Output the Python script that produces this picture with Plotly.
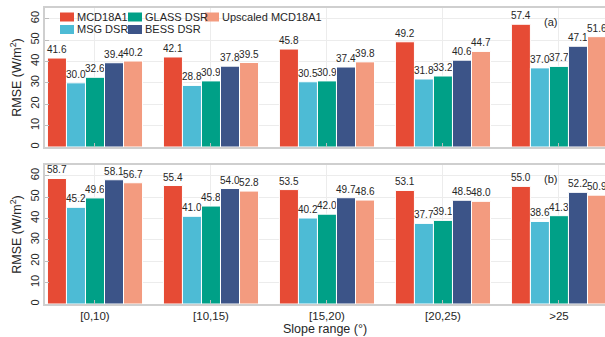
import plotly.graph_objects as go

categories = ["[0,10)", "[10,15)", "[15,20)", "[20,25)", ">25"]
series_names = ["MCD18A1", "MSG DSR", "GLASS DSR", "BESS DSR", "Upscaled MCD18A1"]
colors = ["#E64B35", "#4DBBD5", "#00A087", "#3C5488", "#F39B7F"]

# panel (a)
a_mcd18a1 = [41.6, 42.1, 45.8, 49.2, 57.4]
a_msg = [30.0, 28.8, 30.5, 31.8, 37.0]
a_glass = [32.6, 30.9, 30.9, 33.2, 37.7]
a_bess = [39.4, 37.8, 37.4, 40.6, 47.1]
a_upscaled = [40.2, 39.5, 39.8, 44.7, 51.6]

# panel (b)
b_mcd18a1 = [58.7, 55.4, 53.5, 53.1, 55.0]
b_msg = [45.2, 41.0, 40.2, 37.7, 38.6]
b_glass = [49.6, 45.8, 42.0, 39.1, 41.3]
b_bess = [58.1, 54.0, 49.7, 48.5, 52.2]
b_upscaled = [56.7, 52.8, 48.6, 48.0, 50.9]

panel_a = [a_mcd18a1, a_msg, a_glass, a_bess, a_upscaled]
panel_b = [b_mcd18a1, b_msg, b_glass, b_bess, b_upscaled]

FONT = "Liberation Sans, Arial, sans-serif"
TXT = "#262626"

fig = go.Figure()
for i, name in enumerate(series_names):
    fig.add_trace(go.Bar(
        x=categories, y=panel_a[i], name=name, marker_color=colors[i],
        marker_line=dict(color="white", width=1),
        text=[f"{v:.1f}" for v in panel_a[i]], textposition="outside",
        textfont=dict(size=10, color=TXT, family=FONT), cliponaxis=False,
        constraintext="none", xaxis="x", yaxis="y", showlegend=False,
    ))
for i, name in enumerate(series_names):
    fig.add_trace(go.Bar(
        x=categories, y=panel_b[i], name=name, marker_color=colors[i],
        marker_line=dict(color="white", width=1),
        text=[f"{v:.1f}" for v in panel_b[i]], textposition="outside",
        textfont=dict(size=10, color=TXT, family=FONT), cliponaxis=False,
        constraintext="none", xaxis="x2", yaxis="y2", showlegend=False,
    ))

W, H = 605, 337
ml, mt, mb = 45, 8, 33
ph = H - mt - mb
pw = W - ml
top_dom = [(304 - 147) / ph, 1.0]
bot_dom = [0.0, (304 - 165) / ph]


def lx(px):
    return (px - ml) / pw


def ly(py):
    return (H - mb - py) / ph


xr = [-0.431, 4.397]
axis_common = dict(showline=True, linecolor="#cfcfcf", linewidth=1.5,
                   gridcolor="#ececec", ticks="inside", ticklen=4, tickcolor="#bdbdbd")

# legend layout (column/row placement like the reference)
legend_cells = {  # series index -> (symbol left px, row center px)
    0: (60, 17), 1: (60, 29.5), 2: (128, 17), 3: (128, 29.5), 4: (205, 17),
}
shapes = []
annotations = []
for i, name in enumerate(series_names):
    sx, cy = legend_cells[i]
    shapes.append(dict(type="rect", xref="paper", yref="paper",
                       x0=lx(sx), x1=lx(sx + 14), y0=ly(cy + 4.5), y1=ly(cy - 4.5),
                       fillcolor=colors[i], line=dict(width=0)))
    annotations.append(dict(text=name, x=lx(sx + 15), y=ly(cy), xref="paper", yref="paper",
                            xanchor="left", yanchor="middle", showarrow=False,
                            font=dict(size=11, color=TXT, family=FONT)))

annotations += [
    dict(text="(a)", x=lx(550), y=ly(22), xref="paper", yref="paper", showarrow=False,
         xanchor="center", yanchor="middle", font=dict(size=11, color=TXT, family=FONT)),
    dict(text="(b)", x=lx(550), y=ly(179), xref="paper", yref="paper", showarrow=False,
         xanchor="center", yanchor="middle", font=dict(size=11, color=TXT, family=FONT)),
]

fig.update_layout(
    width=W, height=H, margin=dict(l=ml, r=0, t=mt, b=mb),
    paper_bgcolor="white", plot_bgcolor="white",
    barmode="group", bargap=0.18, bargroupgap=0.0,
    font=dict(family=FONT, color=TXT, size=11),
    showlegend=False,
    xaxis=dict(domain=[0, 1], range=xr, anchor="y", showticklabels=False, mirror=True, **axis_common),
    yaxis=dict(domain=top_dom, range=[0, 65], dtick=10, anchor="x", tickangle=-90,
               tickfont=dict(size=11, color=TXT),
               title=dict(text="RMSE (W/m<sup>2</sup>)", font=dict(size=12.5, color=TXT), standoff=4),
               **axis_common),
    xaxis2=dict(domain=[0, 1], range=xr, anchor="y2", mirror=True, tickfont=dict(size=11.5, color=TXT),
                title=dict(text="Slope range (°)", font=dict(size=12.5, color=TXT), standoff=1),
                **axis_common),
    yaxis2=dict(domain=bot_dom, range=[0, 65], dtick=10, anchor="x2", tickangle=-90,
                tickfont=dict(size=11, color=TXT),
                title=dict(text="RMSE (W/m<sup>2</sup>)", font=dict(size=12.5, color=TXT), standoff=4),
                **axis_common),
    shapes=shapes,
    annotations=annotations,
)

fig.write_html("out.html")
